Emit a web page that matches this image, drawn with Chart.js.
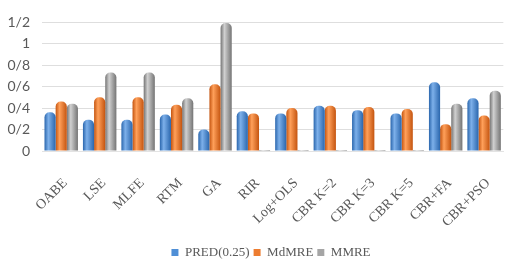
<!DOCTYPE html>
<html lang="en">
  <head>
    <meta charset="UTF-8" />
    <title>PRED / MdMRE / MMRE</title>
    <script src="https://cdn.jsdelivr.net/npm/chart.js"></script>
    <style>
      html, body { margin: 0; padding: 0; background: #fff; overflow: hidden; }
      .grafico { width: 512px; height: 269px; }
    </style>
  </head>
  <body>
    <div class="grafico">
      <canvas id="metodos"></canvas>
    </div>
  </body>
</html>
<script>
  const metodos = ["OABE", "LSE", "MLFE", "RTM", "GA", "RIR", "Log+OLS", "CBR K=2", "CBR K=3", "CBR K=5", "CBR+FA", "CBR+PSO"]
  const pred = [0.36, 0.29, 0.29, 0.34, 0.20, 0.37, 0.35, 0.42, 0.38, 0.35, 0.64, 0.49]
  const mdmre = [0.46, 0.50, 0.50, 0.43, 0.62, 0.35, 0.40, 0.42, 0.41, 0.39, 0.25, 0.33]
  const mmre = [0.44, 0.73, 0.73, 0.49, 1.19, 0.01, 0.01, 0.01, 0.01, 0.01, 0.44, 0.56]
  const yTicks = ["0", "0/2", "0/4", "0/6", "0/8", "1", "1/2"]

  // cores claras / escuras pra imitar o cilindro do excel
  const tons = {
    "PRED(0.25)": ["#2a66ad", "#7db0ea"],
    "MdMRE": ["#c4540f", "#ffa05a"],
    "MMRE": ["#747474", "#d0d0d0"],
  }

  const cilindro = {
    id: "cilindro",
    afterLayout(chart) {
      // legenda fica um pouco pra direita no original
      chart.legend.left += 15
      chart.legend.right += 15
    },
    beforeDatasetsDraw(chart) {
      const ctx = chart.ctx
      chart.data.datasets.forEach((ds, i) => {
        const [escuro, claro] = tons[ds.label]
        chart.getDatasetMeta(i).data.forEach((bar) => {
          const { x, width } = bar.getProps(["x", "width"], true)
          const g = ctx.createLinearGradient(x - width / 2, 0, x + width / 2, 0)
          g.addColorStop(0, escuro)
          g.addColorStop(0.35, claro)
          g.addColorStop(1, escuro)
          bar.options.backgroundColor = g
        })
      })
    },
  }

  const cinza = "#595959"

  const grafico = document.getElementById("metodos")
  new Chart(grafico, {
    type: "bar",
    data: {
      labels: metodos,
      datasets: [
        { label: "PRED(0.25)", data: pred, backgroundColor: () => "#4f8fd6" },
        { label: "MdMRE", data: mdmre, backgroundColor: () => "#ed7d31" },
        { label: "MMRE", data: mmre, backgroundColor: () => "#a5a5a5" },
      ],
    },
    options: {
      responsive: true,
      maintainAspectRatio: false,
      animation: false,
      datasets: {
        bar: {
          categoryPercentage: 0.87,
          barPercentage: 1,
          borderRadius: { topLeft: 5, topRight: 5, bottomLeft: 0, bottomRight: 0 },
          borderSkipped: "bottom",
          clip: false,
        },
      },
      layout: { padding: { top: 22, left: 0, right: 0, bottom: 0 } },
      plugins: {
        tooltip: { enabled: false },
        legend: {
          position: "bottom",
          labels: {
            boxWidth: 7,
            boxHeight: 7,
            padding: 4,
            color: cinza,
            font: { family: "'Liberation Serif', serif", size: 13 },
          },
        },
      },
      scales: {
        x: {
          grid: { display: false },
          border: { color: "#e3e3e3" },
          ticks: {
            autoSkip: false,
            maxRotation: 45,
            minRotation: 45,
            padding: 16,
            labelOffset: 4,
            color: cinza,
            font: { family: "'Liberation Serif', serif", size: 14 },
          },
          afterFit(scale) {
            scale.height = 91
          },
        },
        y: {
          min: 0,
          max: 1.2,
          border: { display: false },
          grid: { color: "#dedede", drawTicks: false },
          ticks: {
            stepSize: 0.2,
            padding: 12,
            color: cinza,
            font: { family: "Lato, sans-serif", size: 14 },
            callback: (v, i) => yTicks[i],
          },
          afterFit(scale) {
            scale.width = 42
          },
        },
      },
    },
    plugins: [cilindro],
  })
</script>
